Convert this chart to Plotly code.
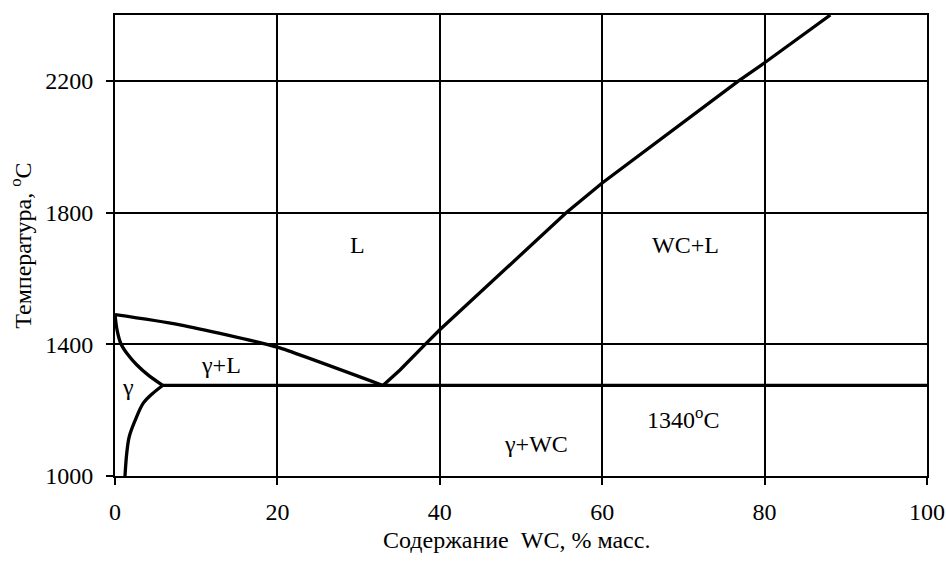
import plotly.graph_objects as go

# Liquidus (gamma side)
liq_left_x = [0.0, 8.0, 18.7, 20.3, 33.0]
liq_left_y = [1490, 1459, 1400, 1389, 1275]
# Liquidus (WC side)
liq_right_x = [33.0, 35.1, 38.2, 40.0, 55.6, 60.0, 76.8, 80.0, 88.1]
liq_right_y = [1275, 1322, 1400, 1444, 1800, 1890, 2200, 2255, 2400]
# Solidus of gamma
sol_x = [0.0, 0.25, 0.74, 1.6, 2.7, 4.06, 5.87]
sol_y = [1490, 1444, 1401, 1368, 1337, 1307, 1275]
# Solvus of gamma
solv_x = [5.87, 4.6, 3.5, 2.5, 1.76, 1.45, 1.23]
solv_y = [1275, 1250, 1222, 1170, 1120, 1070, 1000]
# Eutectic line
eut_x = [5.87, 100.0]
eut_y = [1275, 1275]

labels_text = ["L", "WC+L", "\u03b3+L", "\u03b3", "1340<sup>o</sup>C", "\u03b3+WC"]
labels_x = [29.9, 70.3, 13.0, 1.6, 70.0, 51.8]
labels_y = [1702, 1702, 1337, 1271, 1176, 1097]

x_title = "Содержание\u00a0\u00a0WC, % масс."
y_title = "Температура, <sup>o</sup>C"

x_ticks = [0, 20, 40, 60, 80, 100]
y_ticks = [1000, 1400, 1800, 2200]

FONT = "Liberation Serif, Times New Roman, serif"
FS = 24

fig = go.Figure()
for xs, ys, shp, sm in [(liq_left_x, liq_left_y, "spline", 0.8),
                        (liq_right_x, liq_right_y, "linear", None),
                        (sol_x, sol_y, "spline", 0.8),
                        (solv_x, solv_y, "spline", 1.0),
                        (eut_x, eut_y, "linear", None)]:
    ln = dict(color="black", width=3.3, shape=shp)
    if sm is not None:
        ln["smoothing"] = sm
    fig.add_trace(go.Scatter(x=xs, y=ys, mode="lines", line=ln,
                             showlegend=False, hoverinfo="skip"))

for t, x, y in zip(labels_text, labels_x, labels_y):
    fig.add_annotation(x=x, y=y, text=t, showarrow=False,
                       font=dict(family=FONT, size=FS, color="black"),
                       xanchor="center", yanchor="middle")

# axis titles
fig.add_annotation(xref="paper", yref="paper", x=0.494, y=-0.139, text=x_title,
                   showarrow=False, xanchor="center", yanchor="middle",
                   font=dict(family=FONT, size=FS, color="black"))
fig.add_annotation(xref="paper", yref="paper", x=-0.116, y=0.499, text=y_title,
                   showarrow=False, xanchor="center", yanchor="middle", textangle=-90,
                   font=dict(family=FONT, size=FS, color="black"))

fig.update_layout(
    width=946, height=565,
    margin=dict(l=115, r=19, t=15, b=89),
    paper_bgcolor="white", plot_bgcolor="white",
    font=dict(family=FONT, size=FS, color="black"),
    showlegend=False,
)
fig.update_xaxes(
    range=[0, 100], tickvals=x_ticks, ticktext=[str(v) for v in x_ticks],
    showgrid=True, gridcolor="black", gridwidth=2,
    showline=True, linecolor="black", linewidth=2, mirror=True,
    ticks="outside", ticklen=7, tickcolor="black", tickwidth=2,
    ticklabelstandoff=6, zeroline=False, automargin=False,
)
fig.update_yaxes(
    range=[1000, 2400], tickvals=y_ticks, ticktext=[str(v) for v in y_ticks],
    showgrid=True, gridcolor="black", gridwidth=2,
    showline=True, linecolor="black", linewidth=2, mirror=True,
    ticks="outside", ticklen=7, tickcolor="black", tickwidth=2,
    ticklabelstandoff=8, zeroline=False, automargin=False,
)

fig.write_html("out.html", config={"displayModeBar": False},
               post_script="document.body.style.margin='0';document.body.style.overflow='hidden';")
